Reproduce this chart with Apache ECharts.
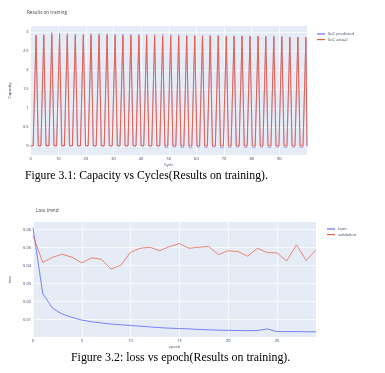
<!DOCTYPE html>
<html><head><meta charset="utf-8">
<script src="https://cdn.jsdelivr.net/npm/echarts@6/dist/echarts.min.js"></script>
<style>html,body{margin:0;padding:0;background:#fff}#c{width:385px;height:373px}</style>
</head><body><div id="c"></div>
<script>
// ---- Figure 3.1 data: capacity vs cycle (vertices of the sawtooth) ----
const cycle = [0, 0.95,
  2.0, 2.8, 3.75,   4.8, 5.6, 6.65,   7.7, 8.5, 9.45,   10.5, 11.3, 12.25,
  13.3, 14.1, 15.15, 16.2, 17.0, 18.05, 19.1, 19.9, 20.85, 21.9, 22.7, 23.75,
  24.8, 25.6, 26.65, 27.7, 28.5, 29.55, 30.6, 31.4, 32.35, 33.4, 34.2, 35.25,
  36.3, 37.1, 38.15, 39.2, 40.0, 40.95, 42.0, 42.8, 43.85, 44.9, 45.7, 46.75,
  47.8, 48.6, 49.65, 50.7, 51.5, 52.55, 53.6, 54.4, 55.45, 56.5, 57.3, 58.35,
  59.4, 60.2, 61.15, 62.2, 63.0, 63.95, 65.0, 65.8, 66.85, 67.9, 68.7, 69.75,
  70.8, 71.6, 72.55, 73.6, 74.4, 75.45, 76.5, 77.3, 78.35, 79.4, 80.2, 81.25,
  82.3, 83.1, 84.05, 85.1, 85.9, 86.95, 88.0, 88.8, 89.85, 90.9, 91.7, 92.75,
  93.8, 94.6, 95.65, 96.7, 97.5, 98.55, 99.6, 100.0];
const socActual = [0, 0,
  2.92, 0, 0, 2.92, 0, 0, 2.93, 0, 0, 2.93, 0, 0,
  2.92, 0, 0, 2.92, 0, 0, 2.92, 0, 0, 2.92, 0, 0,
  2.92, 0, 0, 2.92, 0, 0, 2.91, 0, 0, 2.91, 0, 0,
  2.91, 0, 0, 2.91, 0, 0, 2.91, 0, 0, 2.91, 0, 0,
  2.90, 0, 0, 2.91, 0, 0, 2.90, 0, 0, 2.90, 0, 0,
  2.90, 0, 0, 2.90, 0, 0, 2.90, 0, 0, 2.90, 0, 0,
  2.89, 0, 0, 2.89, 0, 0, 2.89, 0, 0, 2.89, 0, 0,
  2.89, 0, 0, 2.88, 0, 0, 2.88, 0, 0, 2.88, 0, 0,
  2.87, 0, 0, 2.87, 0, 0, 2.86, 0];
const socPredicted = [0, 0,
  2.92, 0, 0, 2.93, 0, 0, 3.00, 0, 0, 2.97, 0, 0,
  2.97, 0, 0, 2.95, 0, 0, 2.95, 0, 0, 2.97, 0, 0,
  2.97, 0, 0, 2.96, 0, 0, 2.95, 0, 0, 2.95, 0, 0,
  2.94, 0, 0, 2.94, 0, 0, 2.94, 0, 0, 2.93, 0, 0,
  2.94, -0.04, -0.04, 2.94, -0.03, -0.03, 2.93, -0.04, -0.04, 2.92, -0.05, -0.05,
  2.92, -0.03, -0.03, 2.92, -0.04, -0.04, 2.92, -0.03, -0.03, 2.92, -0.05, -0.05,
  2.91, -0.04, -0.04, 2.91, -0.03, -0.03, 2.90, -0.04, -0.04, 2.90, -0.05, -0.05,
  2.89, -0.03, -0.03, 2.89, -0.04, -0.04, 2.89, -0.03, -0.03, 2.88, -0.04, -0.04,
  2.87, -0.03, -0.03, 2.87, -0.04, -0.04, 2.86, -0.03];
const capacityTicks = [0, 0.5, 1, 1.5, 2, 2.5, 3];
const cycleTicks = [0, 10, 20, 30, 40, 50, 60, 70, 80, 90];

// ---- Figure 3.2 data: loss vs epoch ----
const epochs = [0,1,2,3,4,5,6,7,8,9,10,11,12,13,14,15,16,17,18,19,20,21,22,23,24,25,26,27,28,29];
const trainLoss = [0.061, 0.0244, 0.0163, 0.013, 0.0112, 0.0097, 0.0088, 0.0081, 0.0075, 0.0071,
  0.0067, 0.0063, 0.0059, 0.0055, 0.0052, 0.005, 0.0048, 0.0045, 0.0043, 0.0041,
  0.004, 0.0039, 0.0038, 0.0039, 0.0048, 0.0033, 0.0033, 0.0033, 0.0032, 0.0032];
const valLoss = [0.0567, 0.0418, 0.0446, 0.0463, 0.0446, 0.0415, 0.0443, 0.0435, 0.038, 0.0402,
  0.0474, 0.0496, 0.0502, 0.0482, 0.0506, 0.0522, 0.0496, 0.0502, 0.0506, 0.0461,
  0.0482, 0.0478, 0.0452, 0.0496, 0.0472, 0.047, 0.0426, 0.0515, 0.0428, 0.0487];
const lossTicks = [0.01, 0.02, 0.03, 0.04, 0.05, 0.06];
const epochTicks = [0, 5, 10, 15, 20, 25];

const BLUE = '#636efa', RED = '#e9604c', TXT = '#2a3f5f', FONT = 'Open Sans';
function axisCommon(ticks, name, gap, rotate) {
  return {
    type: 'value',
    axisLine: {show: false},
    axisTick: {show: false, customValues: ticks},
    axisLabel: {customValues: ticks, fontSize: 4, color: TXT, fontFamily: FONT, margin: 2},
    splitLine: {show: true, lineStyle: {color: '#ffffff', width: 0.7}},
    name: name, nameLocation: 'middle', nameGap: gap, nameRotate: rotate,
    nameTextStyle: {fontSize: 4, color: TXT, fontFamily: FONT}
  };
}
const chart = echarts.init(document.getElementById('c'), null, {renderer: 'canvas'});
chart.setOption({
  animation: false,
  backgroundColor: '#ffffff',
  title: [
    {text: 'Results on training', left: 22, top: 5, textStyle: {fontSize: 4.6, fontWeight: 'normal', color: '#444', fontFamily: FONT}},
    {text: 'Loss trend', left: 31, top: 203, textStyle: {fontSize: 4.6, fontWeight: 'normal', color: '#444', fontFamily: FONT}}
  ],
  legend: [
    {data: ['SoC predicted', 'SoC actual'], left: 312, top: 27, orient: 'vertical', icon: 'rect',
     itemWidth: 8, itemHeight: 1.2, itemGap: 1.6, textStyle: {fontSize: 4, color: TXT, fontFamily: FONT, padding: [0,0,0,-2]}},
    {data: ['train', 'validation'], left: 322, top: 222, orient: 'vertical', icon: 'rect',
     itemWidth: 8, itemHeight: 1.2, itemGap: 1.6, textStyle: {fontSize: 4, color: TXT, fontFamily: FONT, padding: [0,0,0,-2]}}
  ],
  grid: [
    {left: 26, top: 26, width: 281, height: 129, show: true, backgroundColor: '#E5ECF6', borderWidth: 0},
    {left: 33, top: 222, width: 283, height: 115, show: true, backgroundColor: '#E5ECF6', borderWidth: 0}
  ],
  xAxis: [
    Object.assign(axisCommon(cycleTicks, 'Cycle', 8, 0), {gridIndex: 0, min: 0, max: 100}),
    Object.assign(axisCommon(epochTicks, 'epoch', 8, 0), {gridIndex: 1, min: 0, max: 29})
  ],
  yAxis: [
    Object.assign(axisCommon(capacityTicks, 'Capacity', 12, 90), {gridIndex: 0, min: -0.24, max: 3.16}),
    Object.assign(axisCommon(lossTicks, 'loss', 13, 90), {gridIndex: 1, min: 0.0003, max: 0.0642})
  ],
  series: [
    {name: 'SoC predicted', type: 'line', xAxisIndex: 0, yAxisIndex: 0, showSymbol: false,
     data: cycle.map((c, i) => [c, socPredicted[i]]), lineStyle: {color: BLUE, width: 0.7, opacity: 0.6}, itemStyle: {color: BLUE}},
    {name: 'SoC actual', type: 'line', xAxisIndex: 0, yAxisIndex: 0, showSymbol: false,
     data: cycle.map((c, i) => [c, socActual[i]]), lineStyle: {color: RED, width: 1}, itemStyle: {color: RED}},
    {name: 'train', type: 'line', xAxisIndex: 1, yAxisIndex: 1, showSymbol: false,
     data: epochs.map((e, i) => [e, trainLoss[i]]), lineStyle: {color: BLUE, width: 1, opacity: 0.85}, itemStyle: {color: BLUE}},
    {name: 'validation', type: 'line', xAxisIndex: 1, yAxisIndex: 1, showSymbol: false,
     data: epochs.map((e, i) => [e, valLoss[i]]), lineStyle: {color: RED, width: 1, opacity: 0.75}, itemStyle: {color: RED}}
  ],
  graphic: [
    {type: 'text', left: 25, top: 170, style: {text: 'Figure 3.1: Capacity vs Cycles(Results on training).', font: '11.7px "Liberation Serif"', fill: '#000'}},
    {type: 'text', left: 71, top: 352, style: {text: 'Figure 3.2: loss vs epoch(Results on training).', font: '11.9px "Liberation Serif"', fill: '#000'}}
  ]
});
</script>
</body></html>
